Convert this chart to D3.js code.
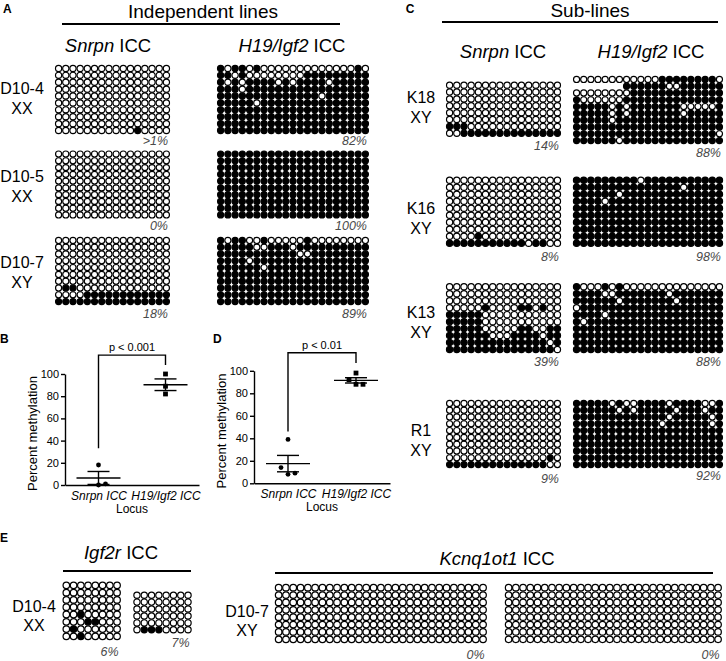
<!DOCTYPE html>
<html><head><meta charset="utf-8">
<script src="https://cdn.jsdelivr.net/npm/d3@7/dist/d3.min.js"></script>
<style>
body{margin:0;background:#fff}
svg{display:block}
text{font-family:"Liberation Sans",Arial,Helvetica,sans-serif;fill:#000}
</style>
</head><body>
<svg id="fig" width="726" height="661"></svg>
<script>
// ---------------- DATA ----------------
// "1" = methylated CpG, "0" = unmethylated CpG, "-" = not sequenced
const snrpnD104 = [
"0000000000000000","0000000000000000","0000000000000000","0000000000000000","0000000000000000",
"0000000000000000","0000000000000000","0000000000000000","0000000000000000","0000000000010000"];
const h19D104 = [
"101101000000000000010","110100000000111111111","101011110101111011111","111011111111111111111",
"111111111111110111111","111110111111111111111","111111111111111111111","111111111111111111111",
"111111111111111111111","111111111111111111111"];
const snrpnD105 = [
"0000000000000000","0000000000000000","0000000000000000","0000000000000000","0000000000000000",
"0000000000000000","0000000000000000","0000000000000000","0000000000000000","0000000000000000"];
const h19D105 = [
"111111111111111111111","111111111111111111111","111111111111111111111","111111111111111111111",
"111111111111111111111","111111111111111111111","111111111111111111111","111111111111111111111",
"111111111111111111111","111111111111111111111"];
const snrpnD107 = [
"0000000000000000","0000000000000000","0000000000000000","0000000000000000","0000000000000000",
"0000000000000000","0000000000000000","0110000000000000","0000111111111111","1111111111111111"];
const h19D107 = [
"101100100000100000000","111110011101111111111","111111111110011111111","111101111111111111111",
"111111011111111111111","111111111111111111111","111111111111111111111","111111111111111111111",
"111111111111111111111","111111111111111111111"];

const snrpnK18 = [
"0000000000000000","0000000000000000","0000000000000000","0000000000000000",
"0000000000000000","0000000000000000","1110000000000000","0011111111111111"];
const h19K18 = [
"000000000000111111110","-------11111100111111","000000001111111111111","100000011111111111111",
"111110101111111000001","111110101111111011111","111110111111111111111","111111111111111111111",
"111111111111111111110","111111011111111111111"];
const snrpnK16 = [
"0000000000000000","0000000000000000","0000000000000000","0000000000000000","0000000000000000",
"0000000000000000","0000000000000000","0000000000000000","0000100000000000","1111111111101100"];
const h19K16 = [
"111111111011111111111","111111111111111011111","111111011111111111111","111101111111111111111",
"111111111111111111111","111111111111111111111","111111111111111111111","111111111111111111111",
"111111111111111111111","111111111111111111111"];
const snrpnK13 = [
"0000000000000000","0000000000000000","0000000000000000","0000010000110100","1111100000000000",
"1111100000000000","1111100000110011","1111110001111011","1111111111111101","1111111111111110"];
const h19K13 = [
"100010100000000000000","111100111111101111111","111111011111110111111","011111111111111111111",
"111101111111111111111","101111111111111111111","111111111111111111111","111111111111111111111",
"111111111111111111111","111111111111111111111"];
const snrpnR1 = [
"0000000000000000","0000000000000000","0000000000000000","0000000000000000","0000000000000000",
"0000000000000000","0000000000000000","0000000000000000","0000000000000010","1111111111111100"];
const h19R1 = [
"111110100111101111001","111111010111110111011","111111111111101111101","111111111111011111101",
"111111111111111111111","111111111111111111111","111111111111111111111","111111111111111111111",
"111111111111111111111","111111111111111111111"];

const igf2rD104a = ["00000000","00000000","00000000","00000000","00100000","00011000","01000000","00100000"];
const igf2rD104b = ["00000000","00000000","00000000","00000000","00000000","01110000"];
const kcnqD107a = [
"00000000000000000000000000000","00000000000000000000000000000","00000000000000000000000000000",
"00000000000000000000000000000","00000000000000000000000000000","00000000000000000000000000000",
"00000000000000000000000000000","00000000000000000000000000000"];
const kcnqD107b = [
"000000000000000000000000000000","000000000000000000000000000000","000000000000000000000000000000",
"000000000000000000000000000000","000000000000000000000000000000","000000000000000000000000000000",
"000000000000000000000000000000","000000000000000000000000000000"];

const pctA = [">1%","0%","18%","82%","100%","89%"];
const pctC = ["14%","88%","8%","98%","39%","88%","9%","92%"];
const pctE = ["6%","7%","0%","0%"];
const linesA = ["D10-4","XX","D10-5","XX","D10-7","XY"];
const linesC = ["K18","XY","K16","XY","K13","XY","R1","XY"];

const locus = ["Snrpn ICC","H19/Igf2 ICC"];
const yTicks = [0,20,40,60,80,100];
const bSnrpn = [1, 0, 18];
const bH19 = [82, 100, 89];
const dSnrpn = [14, 8, 39, 9];
const dH19 = [88, 98, 88, 92];
const bBracket = [33, 117, 108];   // left leg end, bar level, right leg end
const dBracket = [46, 116, 107];
const pLabels = ["p < 0.001","p < 0.01"];

// ---------------- DRAWING ----------------
const svg = d3.select("#fig");

function txt(x, y, parts, opt = {}) {
  const t = svg.append("text").attr("x", x).attr("y", y)
    .attr("text-anchor", opt.anchor || "middle")
    .style("font-size", (opt.size || 16) + "px");
  if (opt.weight) t.style("font-weight", opt.weight);
  if (opt.fill) t.style("fill", opt.fill);
  if (opt.transform) t.attr("transform", opt.transform);
  parts.forEach(p => {
    const s = t.append("tspan").text(p[0]);
    if (p[1]) s.style("font-style", "italic");
  });
  return t;
}
function hline(x1, x2, y, w = 2) {
  svg.append("line").attr("x1", x1).attr("x2", x2).attr("y1", y).attr("y2", y)
    .attr("stroke", "#000").attr("stroke-width", w);
}

function drawGrid(rows, box, pct, pctY) {
  const ncol = d3.max(rows, r => r.length), nrow = rows.length;
  const x = d3.scaleBand().domain(d3.range(ncol)).range([box[0], box[1]]);
  const y = d3.scaleBand().domain(d3.range(nrow)).range([box[2], box[3]]);
  const p = Math.min(x.bandwidth(), y.bandwidth());
  const cells = rows.flatMap((r, i) => r.split("").map((c, j) => ({i, j, c}))).filter(d => d.c !== "-");
  svg.append("g").selectAll("circle").data(cells).join("circle")
    .attr("cx", d => x(d.j) + x.bandwidth() / 2)
    .attr("cy", d => y(d.i) + y.bandwidth() / 2)
    .attr("r", p * 0.45)
    .attr("fill", d => d.c === "1" ? "#000" : "#fff")
    .attr("stroke", "#000").attr("stroke-width", p * 0.17);
  if (pct !== undefined)
    txt(box[1] - 2, pctY, [[pct, true]], {anchor: "end", size: 12.5, fill: "#4a4a4a"});
}

// ---- Panel A ----
txt(3, 13, [["A"]], {anchor: "start", size: 12, weight: "bold"});
txt(203, 18, [["Independent lines"]], {size: 19});
hline(62, 340, 24);
txt(108, 52, [["Snrpn", true], [" ICC"]], {size: 18.5});
txt(292, 52, [["H19/Igf2", true], [" ICC"]], {size: 18.5});
const aRows = [[65, 134, 145, 94], [150.7, 218.3, 230, 182], [237, 305, 318, 268]];
const aSn = [snrpnD104, snrpnD105, snrpnD107], aH = [h19D104, h19D105, h19D107];
aRows.forEach((r, k) => {
  drawGrid(aSn[k], [55, 170, r[0], r[1]], pctA[k], r[2]);
  drawGrid(aH[k], [217, 369, r[0], r[1]], pctA[k + 3], r[2]);
  txt(22, r[3], [[linesA[2 * k]]], {size: 16});
  txt(22, r[3] + 19.5, [[linesA[2 * k + 1]]], {size: 16});
});

// ---- Panel C ----
txt(410, 13, [["C"]], {anchor: "middle", size: 12, weight: "bold"});
txt(590, 17, [["Sub-lines"]], {size: 19});
hline(442, 718, 22);
txt(503, 58, [["Snrpn", true], [" ICC"]], {size: 18.5});
txt(651, 58, [["H19/Igf2", true], [" ICC"]], {size: 18.5});
const cRows = [
  {s: [81.7, 136.7], h: [76, 144], ps: 150, ph: 157, lb: 103},
  {s: [176.7, 246.7], h: [176.7, 246.7], ps: 261, ph: 261, lb: 214},
  {s: [283.3, 353], h: [283.3, 353], ps: 366, ph: 366, lb: 318},
  {s: [400, 468], h: [400, 468], ps: 483, ph: 480, lb: 436}];
const cSn = [snrpnK18, snrpnK16, snrpnK13, snrpnR1], cH = [h19K18, h19K16, h19K13, h19R1];
cRows.forEach((r, k) => {
  drawGrid(cSn[k], [446, 561, r.s[0], r.s[1]], pctC[2 * k], r.ps);
  drawGrid(cH[k], [573, 723, r.h[0], r.h[1]], pctC[2 * k + 1], r.ph);
  txt(421, r.lb, [[linesC[2 * k]]], {size: 16});
  txt(421, r.lb + 20, [[linesC[2 * k + 1]]], {size: 16});
});

// ---- Panels B & D (scatter with mean ± SEM) ----
function scatterPanel(letter, lx, ly, xr, y0, y100, sn, h, br, ptxt) {
  txt(lx, ly, [[letter]], {anchor: "start", size: 12, weight: "bold"});
  const y = d3.scaleLinear().domain([0, 100]).range([y0, y100]);
  const x = d3.scalePoint().domain(locus).range(xr).padding(0.5);
  const g = svg.append("g");
  const ya = g.append("g").attr("transform", `translate(${xr[0]},0)`)
    .call(d3.axisLeft(y).tickValues(yTicks).tickSize(4).tickSizeOuter(0).tickPadding(2));
  ya.selectAll("text").style("font-size", "11px").style("font-family", "'Liberation Sans',Arial,sans-serif");
  ya.selectAll("line,path").attr("stroke-width", 1.4);
  const xa = g.append("g").attr("transform", `translate(0,${y0})`)
    .call(d3.axisBottom(x).tickSize(0).tickSizeOuter(0).tickPadding(6));
  xa.selectAll("text").style("font-size", "12px").style("font-style", "italic")
    .style("font-family", "'Liberation Sans',Arial,sans-serif");
  xa.select("path").attr("stroke-width", 1.4);
  const mid = (xr[0] + xr[1]) / 2;
  txt(mid, y0 + 28, [["Locus"]], {size: 12});
  txt(xr[0] - 28, (y(0) + y(100)) / 2 + 4, [["Percent methylation"]],
      {size: 13, transform: `rotate(-90,${xr[0] - 28},${(y(0) + y(100)) / 2 + 4})`});
  // bracket
  const xs = x(locus[0]), xh = x(locus[1]);
  g.append("path").attr("fill", "none").attr("stroke", "#000").attr("stroke-width", 1.4)
    .attr("d", `M${xs},${y(br[0])}V${y(br[1])}H${xh}V${y(br[2])}`);
  txt((xs + xh) / 2, y(br[1]) - 4, [[ptxt]], {size: 11});
  // groups
  [[sn, "circle"], [h, "square"]].forEach(([vals, shape], gi) => {
    const cx = x(locus[gi]);
    const mean = d3.mean(vals), sem = d3.deviation(vals) / Math.sqrt(vals.length);
    const placed = [];
    const sorted = vals.map((v, i) => ({v, i})).sort((a, b) => a.v - b.v);
    sorted.forEach(d => {
      const py = y(d.v);
      for (const off of [0, 7, -7, 14, -14]) {
        if (placed.every(p => Math.hypot(p.x - off, p.y - py) >= 7)) { placed.push({x: off, y: py}); d.off = off; break; }
      }
    });
    sorted.forEach(d => {
      if (shape === "circle")
        g.append("circle").attr("cx", cx + d.off).attr("cy", y(d.v)).attr("r", 2.4).attr("fill", "#000");
      else
        g.append("rect").attr("x", cx + d.off - 2.4).attr("y", y(d.v) - 2.4).attr("width", 4.8).attr("height", 4.8).attr("fill", "#000");
    });
    const L = (a, b, c, d2) => g.append("line").attr("x1", a).attr("x2", b).attr("y1", c).attr("y2", d2)
      .attr("stroke", "#000").attr("stroke-width", 1.4);
    L(cx - 22, cx + 22, y(mean), y(mean));
    L(cx - 11, cx + 11, y(mean + sem), y(mean + sem));
    L(cx - 11, cx + 11, y(mean - sem), y(mean - sem));
    L(cx, cx, y(mean + sem), y(mean - sem));
  });
}
scatterPanel("B", 0, 343, [65, 199], 485, 374, bSnrpn, bH19, bBracket, pLabels[0]);
scatterPanel("D", 213, 343, [254, 390], 483.3, 370.8, dSnrpn, dH19, dBracket, pLabels[1]);

// ---- Panel E ----
txt(0, 542, [["E"]], {anchor: "start", size: 12, weight: "bold"});
txt(121, 559, [["Igf2r", true], [" ICC"]], {size: 18.5});
hline(63, 191, 571);
txt(497, 565, [["Kcnq1ot1", true], [" ICC"]], {size: 18.5});
hline(275, 713, 573);
drawGrid(igf2rD104a, [62.7, 120.7, 581.7, 640], pctE[0], 656);
drawGrid(igf2rD104b, [133.3, 191.7, 591.7, 633.3], pctE[1], 647);
drawGrid(kcnqD107a, [275, 486.7, 584, 643], pctE[2], 659);
drawGrid(kcnqD107b, [505, 721.7, 584, 643], pctE[3], 659);
txt(34, 612, [["D10-4"]], {size: 16});
txt(34, 631, [["XX"]], {size: 16});
txt(247, 617, [["D10-7"]], {size: 16});
txt(247, 636, [["XY"]], {size: 16});
</script>
</body></html>
